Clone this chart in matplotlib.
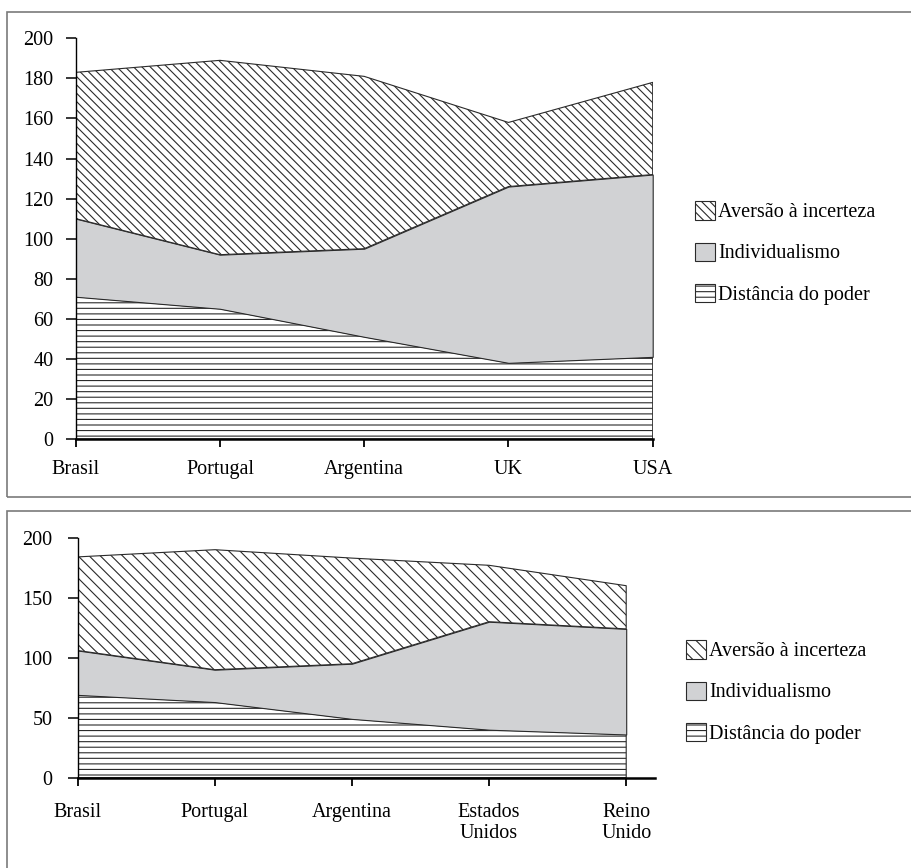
import matplotlib
matplotlib.use("Agg")
import matplotlib.pyplot as plt
from matplotlib.patches import Rectangle, Patch
import numpy as np

plt.rcParams['font.family'] = ['Liberation Serif', 'DejaVu Serif']
plt.rcParams['hatch.linewidth'] = 0.8

# ---- data (top chart) ----
countries_top = ['Brasil', 'Portugal', 'Argentina', 'UK', 'USA']
distancia_top = [71, 65, 51, 38, 41]
individualismo_top = [39, 27, 44, 88, 91]
aversao_top = [73, 97, 86, 32, 46]

# ---- data (bottom chart) ----
countries_bot = ['Brasil', 'Portugal', 'Argentina', 'Estados\nUnidos', 'Reino\nUnido']
distancia_bot = [69, 63, 49, 40, 36]
individualismo_bot = [37, 27, 46, 90, 88]
aversao_bot = [78, 100, 88, 47, 36]

series_labels = ['Distância do poder', 'Individualismo', 'Aversão à incerteza']

W, H = 911, 868
fig = plt.figure(figsize=(W / 100, H / 100), dpi=100)

GRAY = '#d1d2d4'
EDGE = '#2a2a2a'
FS = 14.5
DIAG_TOP = '\\' * 4
DIAG_BOT = '\\' * 3
HORIZ = '---'

# frame boxes
fig.patches.append(Rectangle((7.3 / W, (H - 496.5) / H), 1.05, (496.5 - 11.7) / H,
                             transform=fig.transFigure, fill=False, edgecolor='#7a7a7a', lw=1.2))
fig.patches.append(Rectangle((7.3 / W, -0.05), 1.05, (H - 510.7) / H + 0.05,
                             transform=fig.transFigure, fill=False, edgecolor='#7a7a7a', lw=1.2))


def draw(ax, labels, d, i, a, xmax, yticks, xpad, ypad, diag):
    x = np.arange(len(labels))
    d = np.array(d, float)
    i = np.array(i, float)
    a = np.array(a, float)
    c1 = d
    c2 = d + i
    c3 = d + i + a
    ax.fill_between(x, 0, c1, facecolor='white', edgecolor=EDGE, hatch=HORIZ, lw=0.8, zorder=2)
    ax.fill_between(x, c1, c2, facecolor=GRAY, edgecolor=EDGE, lw=0.8, zorder=2)
    ax.fill_between(x, c2, c3, facecolor='white', edgecolor=EDGE, hatch=diag, lw=0.8, zorder=2)
    ax.set_xlim(0, xmax)
    ax.set_ylim(0, 200)
    ax.set_yticks(yticks)
    ax.set_xticks(x)
    ax.set_xticklabels(labels, fontsize=FS, linespacing=1.2)
    ax.tick_params(axis='y', labelsize=FS, length=7, width=1.1, pad=ypad, direction='out')
    ax.tick_params(axis='x', length=6, width=1.3, pad=xpad, direction='out')
    for s in ['top', 'right']:
        ax.spines[s].set_visible(False)
    ax.spines['left'].set_linewidth(1.0)
    ax.spines['bottom'].set_linewidth(1.8)
    ax.spines['left'].set_zorder(3)
    ax.spines['bottom'].set_zorder(3)
    ax.set_facecolor('none')


ax1 = fig.add_axes([75.7 / W, (H - 439) / H, (652.7 - 75.7) / W, (439 - 38.3) / H])
draw(ax1, countries_top, distancia_top, individualismo_top, aversao_top, 4,
     np.arange(0, 201, 20), 9, 9, DIAG_TOP)

ax2 = fig.add_axes([77.7 / W, (H - 777.7) / H, (655 - 77.7) / W, (777.7 - 537.7) / H])
draw(ax2, countries_bot, distancia_bot, individualismo_bot, aversao_bot, 4.21,
     np.arange(0, 201, 50), 12, 11, DIAG_BOT)

leg_labels = series_labels[::-1]

for cy, lx, diag in [(253, 695, DIAG_TOP), (692, 686, DIAG_BOT)]:
    handles = [Patch(facecolor='white', edgecolor=EDGE, hatch=diag, lw=0.8),
               Patch(facecolor=GRAY, edgecolor=EDGE, lw=0.8),
               Patch(facecolor='white', edgecolor=EDGE, hatch=HORIZ, lw=0.8)]
    fig.legend(handles, leg_labels, loc='center left',
               bbox_to_anchor=(lx / W, (H - cy) / H), frameon=False,
               fontsize=FS, handlelength=1.0, handleheight=1.0,
               handletextpad=0.15, labelspacing=1.0, borderpad=0, borderaxespad=0)

fig.savefig('out.png', dpi=100)
